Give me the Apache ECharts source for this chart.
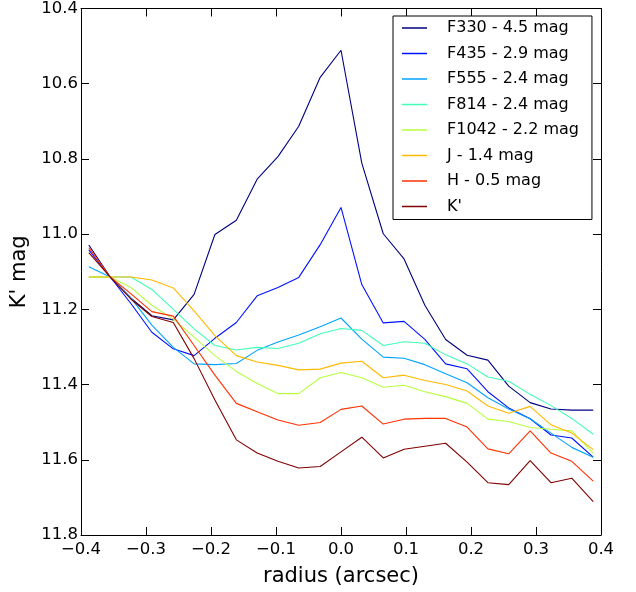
<!DOCTYPE html>
<html>
<head>
<meta charset="utf-8">
<script src="https://cdn.jsdelivr.net/npm/echarts@6/dist/echarts.min.js"></script>
<style>
  html, body { margin: 0; padding: 0; background: #fff; }
  #chart { width: 636px; height: 592px; }
</style>
</head>
<body>
<div id="chart"></div>
<script>
// ---- data ----
var radius = [-0.388, -0.355, -0.323, -0.291, -0.258, -0.226, -0.194, -0.161, -0.129, -0.097, -0.065, -0.032, 0.0,
              0.032, 0.065, 0.097, 0.129, 0.161, 0.194, 0.226, 0.258, 0.291, 0.323, 0.355, 0.388];

var seriesNames = ['F330 - 4.5 mag', 'F435 - 2.9 mag', 'F555 - 2.4 mag', 'F814 - 2.4 mag',
                   'F1042 - 2.2 mag', 'J - 1.4 mag', 'H - 0.5 mag', "K'"];

var f330  = [11.029, 11.114, 11.170, 11.217, 11.228, 11.160, 11.001, 10.963, 10.854, 10.794, 10.713, 10.583, 10.511,
             10.811, 10.999, 11.066, 11.189, 11.280, 11.322, 11.335, 11.404, 11.448, 11.465, 11.468, 11.468];
var f435  = [11.042, 11.114, 11.185, 11.261, 11.305, 11.323, 11.277, 11.235, 11.164, 11.142, 11.115, 11.028, 10.929,
             11.134, 11.236, 11.232, 11.280, 11.345, 11.358, 11.419, 11.462, 11.491, 11.534, 11.542, 11.593];
var f555  = [11.087, 11.114, 11.170, 11.242, 11.301, 11.345, 11.347, 11.344, 11.309, 11.287, 11.268, 11.246, 11.223,
             11.279, 11.327, 11.330, 11.347, 11.371, 11.395, 11.435, 11.465, 11.491, 11.529, 11.567, 11.593];
var f814  = [11.114, 11.114, 11.114, 11.147, 11.200, 11.252, 11.296, 11.308, 11.301, 11.304, 11.290, 11.265, 11.251,
             11.256, 11.296, 11.286, 11.290, 11.321, 11.345, 11.380, 11.391, 11.426, 11.456, 11.490, 11.532];
var f1042 = [11.114, 11.114, 11.142, 11.189, 11.226, 11.274, 11.323, 11.365, 11.397, 11.424, 11.424, 11.382, 11.368,
             11.382, 11.407, 11.402, 11.419, 11.432, 11.450, 11.492, 11.498, 11.514, 11.519, 11.523, 11.582];
var jBand = [11.114, 11.114, 11.114, 11.122, 11.143, 11.204, 11.270, 11.323, 11.340, 11.349, 11.361, 11.359, 11.343,
             11.338, 11.382, 11.375, 11.389, 11.400, 11.417, 11.457, 11.476, 11.458, 11.507, 11.529, 11.573];
var hBand = [11.036, 11.114, 11.159, 11.206, 11.218, 11.296, 11.375, 11.450, 11.472, 11.494, 11.508, 11.501, 11.466,
             11.457, 11.505, 11.492, 11.490, 11.490, 11.513, 11.571, 11.584, 11.523, 11.582, 11.604, 11.657];
var kBand = [11.049, 11.114, 11.173, 11.219, 11.235, 11.331, 11.441, 11.547, 11.582, 11.604, 11.622, 11.618, 11.579,
             11.540, 11.595, 11.572, 11.564, 11.556, 11.606, 11.661, 11.666, 11.602, 11.661, 11.649, 11.711];

var allValues = [f330, f435, f555, f814, f1042, jBand, hBand, kBand];
var colors = ['#000080', '#0012FF', '#00A4FF', '#41FFB6', '#B6FF41', '#FFB900', '#FF3200', '#800000'];

var xTicks = [-0.4, -0.3, -0.2, -0.1, 0.0, 0.1, 0.2, 0.3, 0.4];
var yTicks = [10.4, 10.6, 10.8, 11.0, 11.2, 11.4, 11.6, 11.8];

// ---- chart ----
var FONT = 'DejaVu Sans';
var chart = echarts.init(document.getElementById('chart'), null, { renderer: 'canvas' });

function fmtX(v) {
  var s = Math.abs(v) < 1e-9 ? '0.0' : Math.abs(v).toFixed(1);
  return v < -1e-9 ? '\u2212' + s : s;
}

var axisLine = { show: true, onZero: false, lineStyle: { color: '#000', width: 1 } };
var axisTick = { show: true, inside: true, length: 8, lineStyle: { color: '#000', width: 1 } };

var series = seriesNames.map(function (name, k) {
  return {
    name: name,
    type: 'line',
    xAxisIndex: 0,
    yAxisIndex: 0,
    symbol: 'none',
    showSymbol: false,
    animation: false,
    lineStyle: { color: colors[k], width: 1.1 },
    itemStyle: { color: colors[k] },
    data: radius.map(function (r, i) { return [r, allValues[k][i]]; })
  };
});

var option = {
  animation: false,
  backgroundColor: '#fff',
  grid: { left: 81, right: 35, top: 7, bottom: 55, containLabel: false },
  xAxis: [
    {
      type: 'value', position: 'bottom',
      min: xTicks[0], max: xTicks[xTicks.length - 1], interval: 0.1,
      axisLine: axisLine, axisTick: axisTick, splitLine: { show: false },
      axisLabel: { show: true, margin: 6, color: '#000', fontFamily: FONT, fontSize: 16.5,
                   formatter: function (v) { return fmtX(v); } },
      name: 'radius (arcsec)', nameLocation: 'middle', nameGap: 31,
      nameTextStyle: { color: '#000', fontFamily: FONT, fontSize: 21 }
    },
    {
      type: 'value', position: 'top',
      min: xTicks[0], max: xTicks[xTicks.length - 1], interval: 0.1,
      axisLine: axisLine, axisTick: axisTick, splitLine: { show: false },
      axisLabel: { show: false }
    }
  ],
  yAxis: [
    {
      type: 'value', position: 'left', inverse: true,
      min: yTicks[0], max: yTicks[yTicks.length - 1], interval: 0.2,
      axisLine: axisLine, axisTick: axisTick, splitLine: { show: false },
      axisLabel: { show: true, margin: 3, color: '#000', fontFamily: FONT, fontSize: 16.5,
                   formatter: function (v) { return v.toFixed(1); } },
      name: "K' mag", nameLocation: 'middle', nameGap: 46, nameRotate: 90,
      nameTextStyle: { color: '#000', fontFamily: FONT, fontSize: 21 }
    },
    {
      type: 'value', position: 'right', inverse: true,
      min: yTicks[0], max: yTicks[yTicks.length - 1], interval: 0.2,
      axisLine: axisLine, axisTick: axisTick, splitLine: { show: false },
      axisLabel: { show: false }
    }
  ],
  legend: {
    show: true,
    orient: 'vertical',
    left: 393, top: 16,
    padding: [4, 13, 5, 9],
    icon: 'rect',
    itemWidth: 25, itemHeight: 1.5, itemGap: 9.5,
    borderColor: '#000', borderWidth: 1, borderRadius: 0,
    backgroundColor: '#fff',
    textStyle: { color: '#000', fontFamily: FONT, fontSize: 16, lineHeight: 16, padding: [0, 0, 0, 15] },
    data: seriesNames.map(function (n) { return { name: n }; })
  },
  series: series
};

chart.setOption(option);
</script>
</body>
</html>
